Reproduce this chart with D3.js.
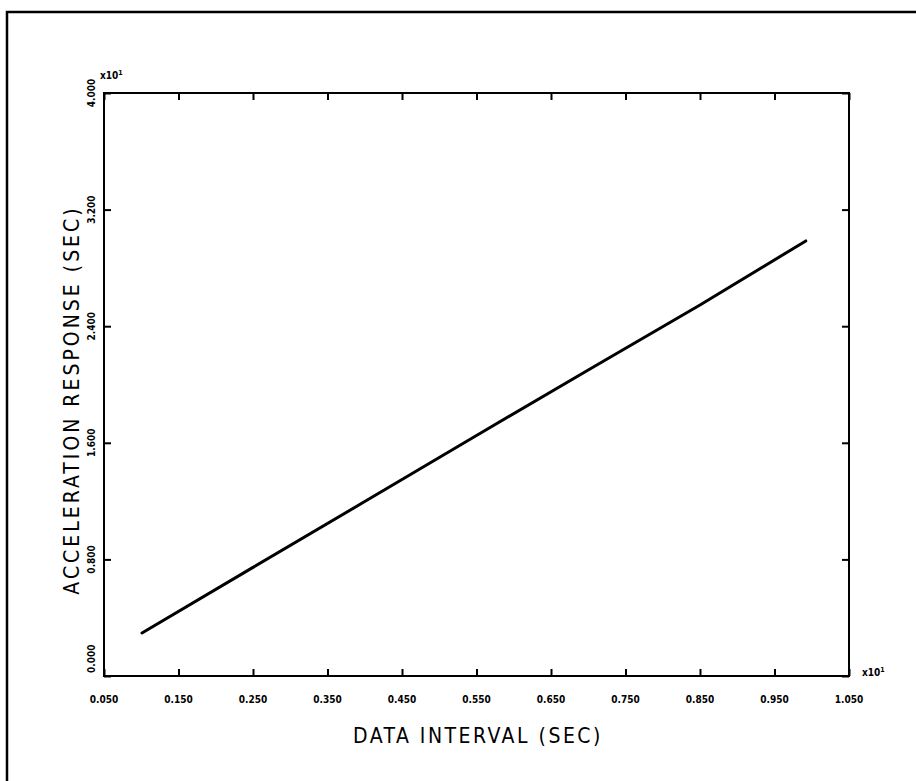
<!DOCTYPE html>
<html>
<head>
<meta charset="utf-8">
<script src="https://cdn.jsdelivr.net/npm/d3@7.9.0/dist/d3.min.js"></script>
<style>
  body { margin: 0; background: #fff; }
  svg { display: block; }
  .lbl { font-family: "DejaVu Sans Condensed", "DejaVu Sans", sans-serif; fill: #000; }
  .tick-lbl { font-family: "DejaVu Sans Condensed", "DejaVu Sans", sans-serif; font-weight: bold; fill: #000; }
</style>
</head>
<body>
<svg id="chart" width="916" height="781"></svg>
<script>
// values (both axes scaled x10^1)
const intervals = [0.101, 0.25, 0.40, 0.55, 0.70, 0.85, 0.992];
const responses = [0.295, 0.745, 1.197, 1.650, 2.100, 2.545, 2.985];

const xTicks = [0.05, 0.15, 0.25, 0.35, 0.45, 0.55, 0.65, 0.75, 0.85, 0.95, 1.05];
const xTickLabels = ["0.050", "0.150", "0.250", "0.350", "0.450", "0.550", "0.650", "0.750", "0.850", "0.950", "1.050"];
const yTicks = [0, 0.8, 1.6, 2.4, 3.2, 4.0];
const yTickLabels = ["0.000", "0.800", "1.600", "2.400", "3.200", "4.000"];

const svg = d3.select("#chart");

// outer frame (left and top edges of the sheet)
svg.append("path")
  .attr("d", "M7,781 L7,12 L916,12")
  .attr("fill", "none")
  .attr("stroke", "#000")
  .attr("stroke-width", 2.5);

const plot = { left: 104, right: 849, top: 93, bottom: 676 };

const x = d3.scaleLinear().domain([0.05, 1.05]).range([plot.left, plot.right]);
const y = d3.scaleLinear().domain([0, 4.0]).range([plot.bottom, plot.top]);

// plot box
svg.append("rect")
  .attr("x", plot.left)
  .attr("y", plot.top)
  .attr("width", plot.right - plot.left)
  .attr("height", plot.bottom - plot.top)
  .attr("fill", "none")
  .attr("stroke", "#000")
  .attr("stroke-width", 2);

// inward ticks on all four sides
function ticks(axis, tx, ty) {
  svg.append("g")
    .attr("transform", `translate(${tx},${ty})`)
    .call(axis)
    .call((g) => g.select(".domain").remove())
    .call((g) => g.selectAll("line").attr("stroke-width", 2));
}
ticks(d3.axisBottom(x).tickValues(xTicks).tickSize(-7).tickFormat(""), 0, plot.bottom);
ticks(d3.axisTop(x).tickValues(xTicks).tickSize(-7).tickFormat(""), 0, plot.top);
ticks(d3.axisLeft(y).tickValues(yTicks).tickSize(-7).tickFormat(""), plot.left, 0);
ticks(d3.axisRight(y).tickValues(yTicks).tickSize(-7).tickFormat(""), plot.right, 0);

// x tick labels
svg.append("g")
  .selectAll("text")
  .data(xTicks)
  .join("text")
  .attr("class", "tick-lbl")
  .attr("x", (d) => x(d))
  .attr("y", 703)
  .attr("text-anchor", "middle")
  .attr("font-size", 10)
  .text((d, i) => xTickLabels[i]);

// y tick labels (rotated)
svg.append("g")
  .selectAll("text")
  .data(yTicks)
  .join("text")
  .attr("class", "tick-lbl")
  .attr("transform", (d) => `translate(95,${y(d)}) rotate(-90)`)
  .attr("text-anchor", (d) => (d === 0 ? "start" : "middle"))
  .attr("dx", (d) => (d === 0 ? 3 : 0))
  .attr("font-size", 10)
  .text((d, i) => yTickLabels[i]);

// multipliers
function multiplier(px, py) {
  const t = svg.append("text")
    .attr("class", "tick-lbl")
    .attr("x", px)
    .attr("y", py)
    .attr("font-size", 10);
  t.append("tspan").text("x10");
  t.append("tspan").attr("dy", -4).attr("font-size", 7).text("1");
}
multiplier(100, 79);
multiplier(862, 676);

// data line
const line = d3.line()
  .x((d, i) => x(intervals[i]))
  .y((d) => y(d));

svg.append("path")
  .datum(responses)
  .attr("d", line)
  .attr("fill", "none")
  .attr("stroke", "#000")
  .attr("stroke-width", 3)
  .attr("stroke-linecap", "round");

// axis titles
svg.append("text")
  .attr("class", "lbl")
  .attr("x", 478)
  .attr("y", 743)
  .attr("text-anchor", "middle")
  .attr("font-size", 21)
  .attr("letter-spacing", 2.5)
  .text("DATA INTERVAL (SEC)");

svg.append("text")
  .attr("class", "lbl")
  .attr("transform", `translate(79,${400}) rotate(-90)`)
  .attr("text-anchor", "middle")
  .attr("font-size", 21)
  .attr("letter-spacing", 3)
  .text("ACCELERATION RESPONSE (SEC)");
</script>
</body>
</html>
